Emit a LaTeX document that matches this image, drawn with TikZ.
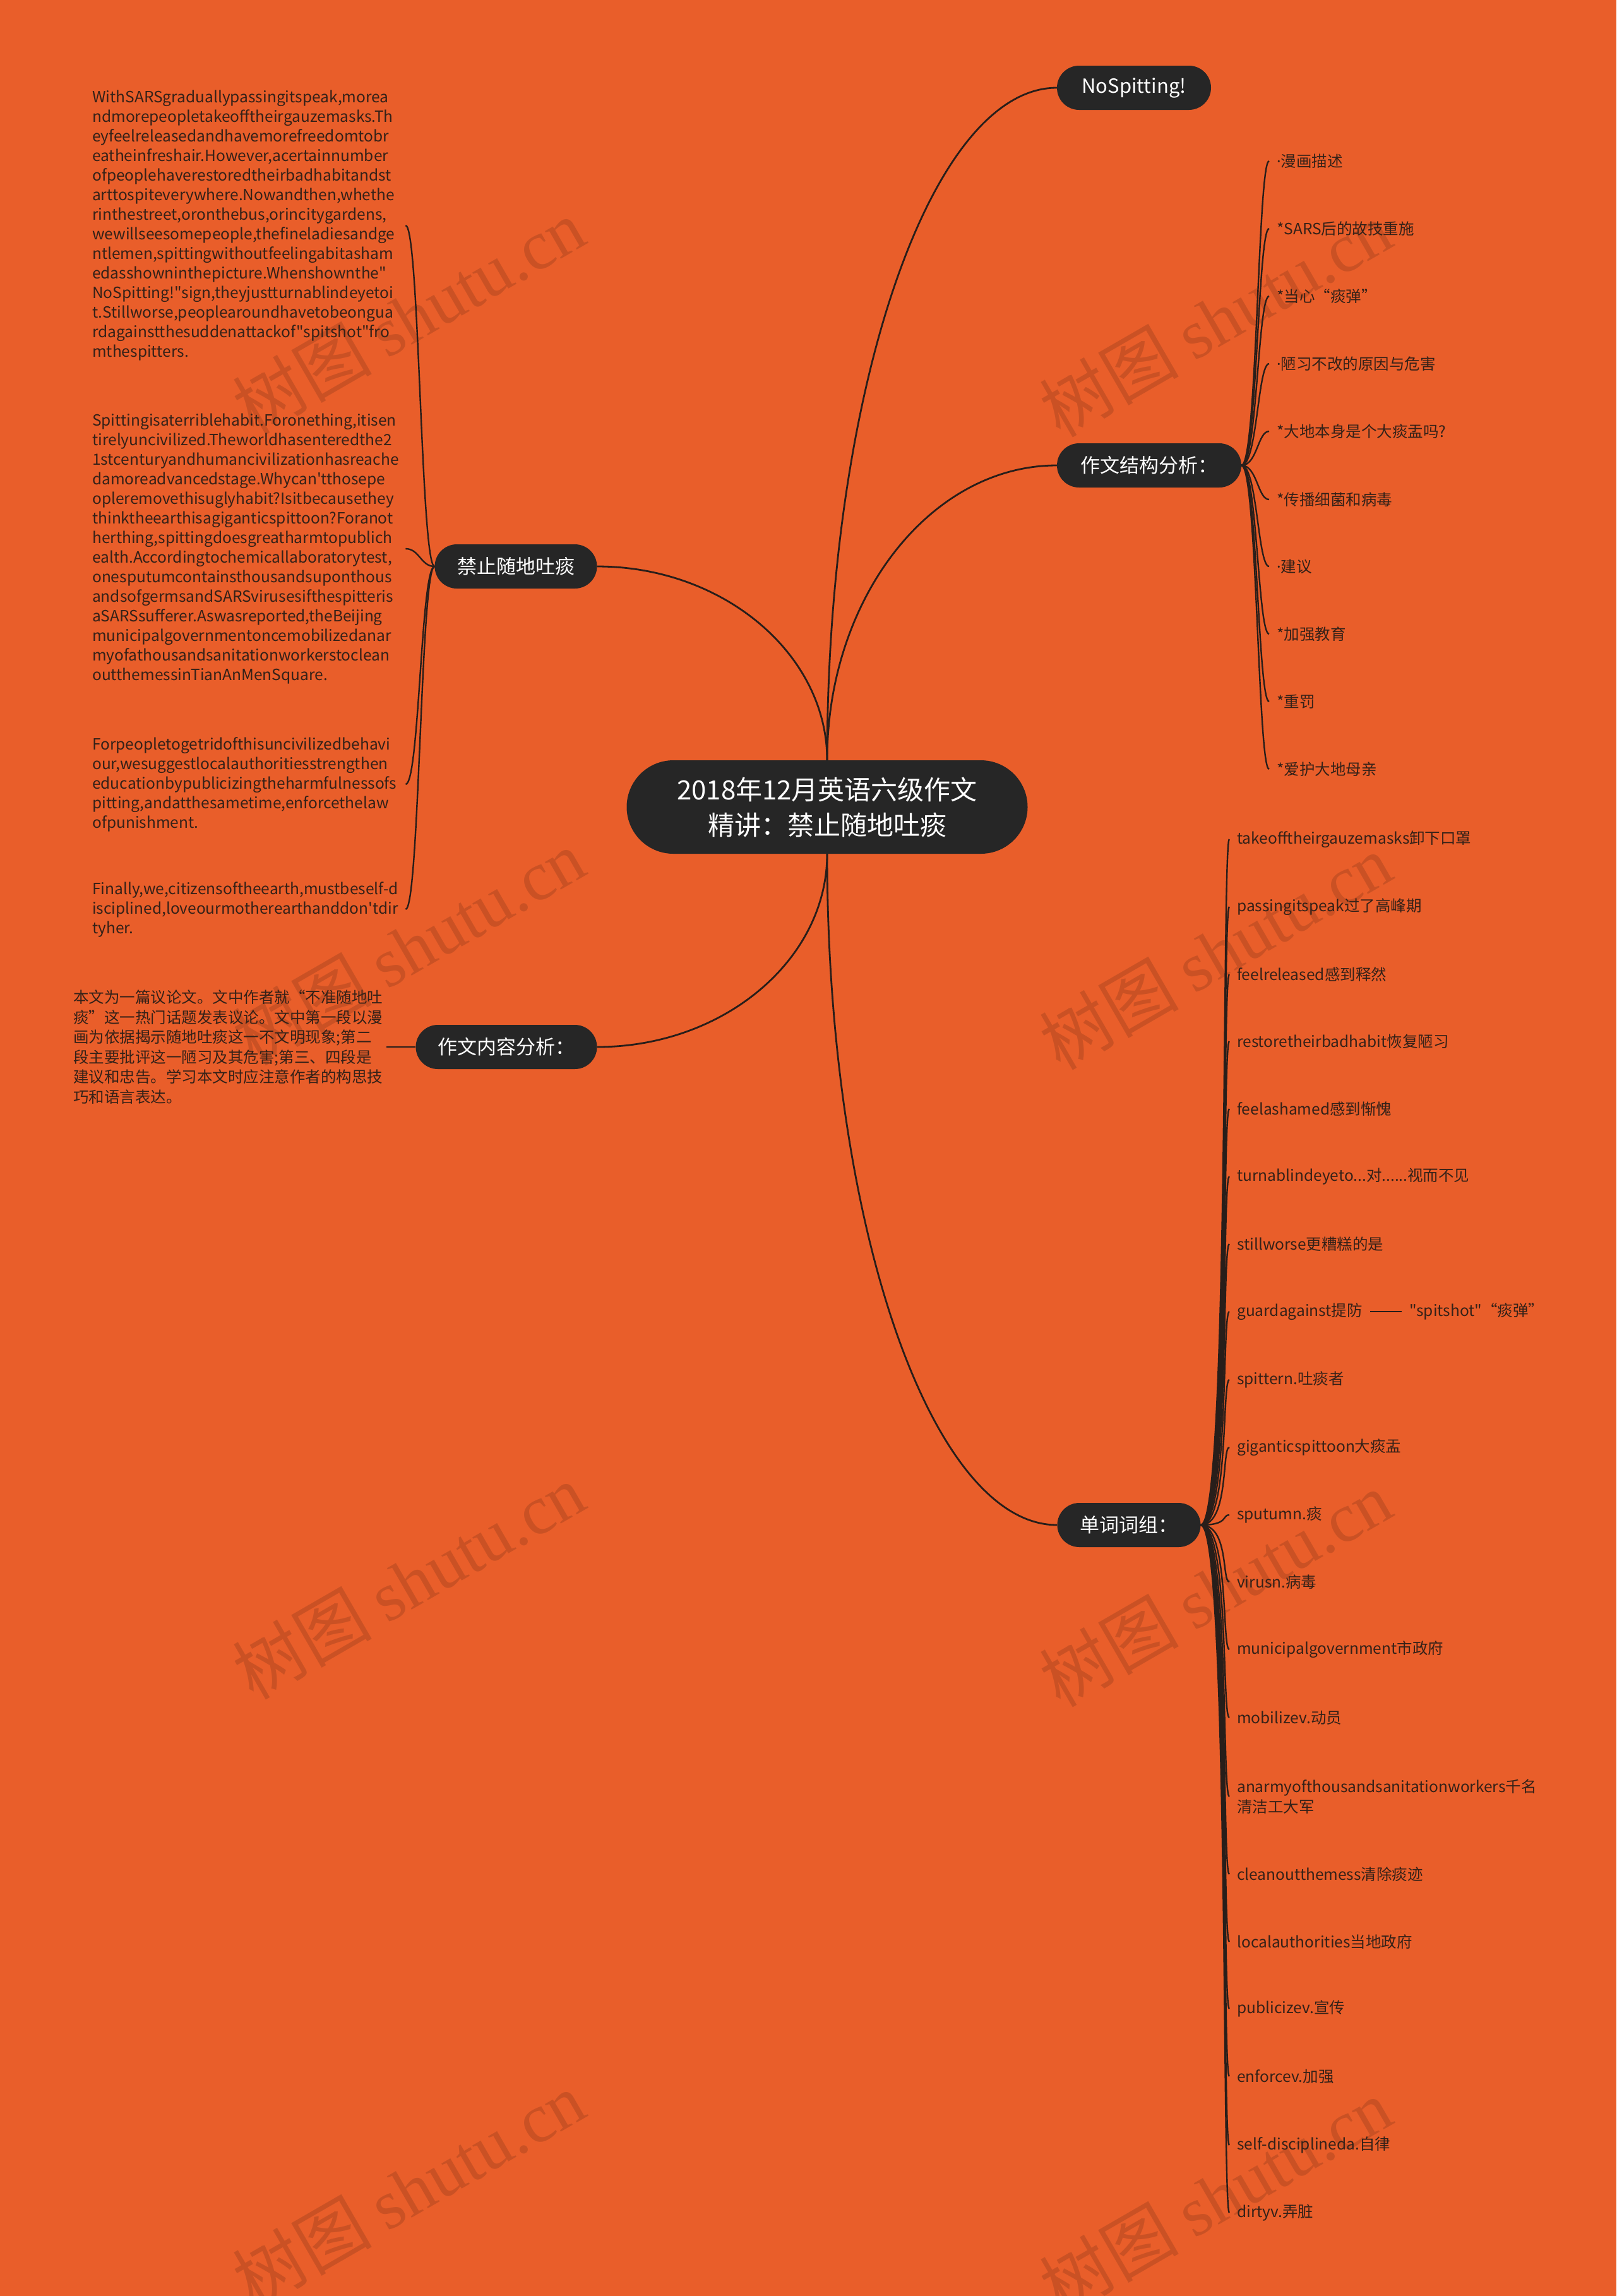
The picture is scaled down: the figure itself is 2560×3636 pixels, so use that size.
\documentclass[tikz,border=0pt]{standalone}
\usepackage{fontspec}
\setmainfont{Noto Sans CJK SC}[Ligatures=TeXOff]
\newfontfamily\wmserif{Liberation Serif}
\newfontfamily\latin{Noto Sans}
\usetikzlibrary{positioning}
\definecolor{bg}{RGB}{233,94,42}
\definecolor{pillc}{RGB}{38,38,38}
\definecolor{linec}{RGB}{40,30,26}
\definecolor{leafc}{RGB}{52,33,24}
\newcommand\mdot{{\latin ·}}
\begin{document}
\begin{tikzpicture}[x=1pt,y=-1pt,
  pill/.style={fill=pillc, text=white, rounded corners=35pt, minimum height=70pt, inner sep=0pt, font=\fontsize{31}{38}\selectfont},
  rootbox/.style={fill=pillc, text=white, rounded corners=74pt, minimum width=635pt, minimum height=148pt, align=center, inner sep=0pt, font=\fontsize{42}{56}\selectfont},
  leaf/.style={anchor=west, inner xsep=12pt, inner ysep=3pt, text=leafc, font=\fontsize{24.5}{32}\selectfont, align=left},
  para/.style={anchor=west, inner xsep=6pt, inner ysep=3pt, text=leafc, text width=490pt, align=left, font=\fontsize{24.5}{31}\selectfont},
  conn/.style={draw=linec, line width=2.4pt},
  mainconn/.style={draw=linec, line width=2.8pt},
  wm/.style={rotate=30, text=black, text opacity=0.13, font=\fontsize{110}{120}\selectfont}
]
\fill[bg] (0,0) rectangle (2560,3636);
\useasboundingbox (0,0) rectangle (2560,3636);

% watermarks
\foreach \wx/\wy [count=\k] in {647/501,1925/505,647/1500,1925/1507,647/2504,1925/2516,647/3467,1925/3478}
  \node[wm] (wm\k) at (\wx,\wy) {树图 {\wmserif shutu.cn}};

% main nodes
\node[rootbox] (root) at (1310,1278) {2018年12月英语六级作文\\精讲：禁止随地吐痰};
\node[pill, minimum width=244pt] (nosp) at (1796,139) {NoSpitting!};
\node[pill, minimum width=292pt] (jg) at (1820,737) {作文结构分析：};
\node[pill, minimum width=227pt] (dc) at (1788,2415) {单词词组：};
\node[pill, minimum width=257pt] (jz) at (817,897) {禁止随地吐痰};
\node[pill, minimum width=287pt] (nr) at (802,1658) {作文内容分析：};

% structure children
\node[leaf] (s1) at (2010,255) {\mdot 漫画描述};
\node[leaf] (s2) at (2010,362) {*SARS后的故技重施};
\node[leaf] (s3) at (2010,469) {*当心“痰弹”};
\node[leaf] (s4) at (2010,576) {\mdot 陋习不改的原因与危害};
\node[leaf] (s5) at (2010,683) {*大地本身是个大痰盂吗?};
\node[leaf] (s6) at (2010,791) {*传播细菌和病毒};
\node[leaf] (s7) at (2010,897) {\mdot 建议};
\node[leaf] (s8) at (2010,1004) {*加强教育};
\node[leaf] (s9) at (2010,1111) {*重罚};
\node[leaf] (s10) at (2010,1218) {*爱护大地母亲};

% vocabulary children
\node[leaf] (w1) at (1947,1329) {takeofftheirgauzemasks卸下口罩};
\node[leaf] (w2) at (1947,1436) {passingitspeak过了高峰期};
\node[leaf] (w3) at (1947,1543) {feelreleased感到释然};
\node[leaf] (w4) at (1947,1649) {restoretheirbadhabit恢复陋习};
\node[leaf] (w5) at (1947,1756) {feelashamed感到惭愧};
\node[leaf] (w6) at (1947,1863) {turnablindeyeto...对......视而不见};
\node[leaf] (w7) at (1947,1970) {stillworse更糟糕的是};
\node[leaf] (w8) at (1947,2077) {guardagainst提防};
\node[leaf] (w9) at (1947,2185) {spittern.吐痰者};
\node[leaf] (w10) at (1947,2292) {giganticspittoon大痰盂};
\node[leaf] (w11) at (1947,2399) {sputumn.痰};
\node[leaf] (w12) at (1947,2505) {virusn.病毒};
\node[leaf] (w13) at (1947,2612) {municipalgovernment市政府};
\node[leaf] (w14) at (1947,2720) {mobilizev.动员};
\node[leaf] (w15) at (1947,2845) {anarmyofthousandsanitationworkers千名\\清洁工大军};
\node[leaf] (w16) at (1947,2968) {cleanoutthemess清除痰迹};
\node[leaf] (w17) at (1947,3075) {localauthorities当地政府};
\node[leaf] (w18) at (1947,3181) {publicizev.宣传};
\node[leaf] (w19) at (1947,3288) {enforcev.加强};
\node[leaf] (w20) at (1947,3397) {self-disciplineda.自律};
\node[leaf] (w21) at (1947,3504) {dirtyv.弄脏};
\node[leaf, right=50pt of w8] (spit) {"spitshot"“痰弹”};

% left paragraphs
\node[para] (p1) at (140,357) {WithSARSgraduallypassingitspeak,morea\\
ndmorepeopletakeofftheirgauzemasks.Th\\
eyfeelreleasedandhavemorefreedomtobr\\
eatheinfreshair.However,acertainnumber\\
ofpeoplehaverestoredtheirbadhabitandst\\
arttospiteverywhere.Nowandthen,whethe\\
rinthestreet,oronthebus,orincitygardens,\\
wewillseesomepeople,thefineladiesandge\\
ntlemen,spittingwithoutfeelingabitasham\\
edasshowninthepicture.Whenshownthe"\\
NoSpitting!"sign,theyjustturnablindeyetoi\\
t.Stillworse,peoplearoundhavetobeongua\\
rdagainstthesuddenattackof"spitshot"fro\\
mthespitters.};
\node[para] (p2) at (140,869) {Spittingisaterriblehabit.Foronething,itisen\\
tirelyuncivilized.Theworldhasenteredthe2\\
1stcenturyandhumancivilizationhasreache\\
damoreadvancedstage.Whycan'tthosepe\\
opleremovethisuglyhabit?Isitbecausethey\\
thinktheearthisagiganticspittoon?Foranot\\
herthing,spittingdoesgreatharmtopublich\\
ealth.Accordingtochemicallaboratorytest,\\
onesputumcontainsthousandsuponthous\\
andsofgermsandSARSvirusesifthespitteris\\
aSARSsufferer.Aswasreported,theBeijing\\
municipalgovernmentoncemobilizedanar\\
myofathousandsanitationworkerstoclean\\
outthemessinTianAnMenSquare.};
\node[para] (p3) at (140,1242) {Forpeopletogetridofthisuncivilizedbehavi\\
our,wesuggestlocalauthoritiesstrengthen\\
educationbypublicizingtheharmfulnessofs\\
pitting,andatthesametime,enforcethelaw\\
ofpunishment.};
\node[para] (p4) at (140,1440) {Finally,we,citizensoftheearth,mustbeself-d\\
isciplined,loveourmotherearthanddon'tdir\\
tyher.};

% content analysis child
\node[para, font=\fontsize{24.5}{31.5}\selectfont] (nrt) at (110,1658) {本文为一篇议论文。文中作者就“不准随地吐\\
痰”这一热门话题发表议论。文中第一段以漫\\
画为依据揭示随地吐痰这一不文明现象;第二\\
段主要批评这一陋习及其危害;第三、四段是\\
建议和忠告。学习本文时应注意作者的构思技\\
巧和语言表达。};

% main connectors
\draw[mainconn] (root.north) .. controls +(0,-585) and +(-200,0) .. (nosp.west);
\draw[mainconn] (root.north) .. controls +(0,-257) and +(-200,0) .. (jg.west);
\draw[mainconn] (root.south) .. controls +(0,585) and +(-200,0) .. (dc.west);
\draw[mainconn] (root.north) .. controls +(0,-168) and +(200,0) .. (jz.east);
\draw[mainconn] (root.south) .. controls +(0,168) and +(200,0) .. (nr.east);

% child connectors
\foreach \i in {1,...,10}
  \draw[conn] (jg.east) .. controls +(25,0) and +(-18,0) .. (s\i.west);
\foreach \i in {1,...,21}
  \draw[conn] (dc.east) .. controls +(45,0) and +(-12,0) .. (w\i.west);
\foreach \i in {1,...,4}
  \draw[conn] (jz.west) .. controls +(-22,0) and +(22,0) .. (p\i.east);
\draw[conn] (nr.west) -- (nrt.east);
\draw[conn] (w8.east) -- (spit.west);
\end{tikzpicture}
\end{document}
